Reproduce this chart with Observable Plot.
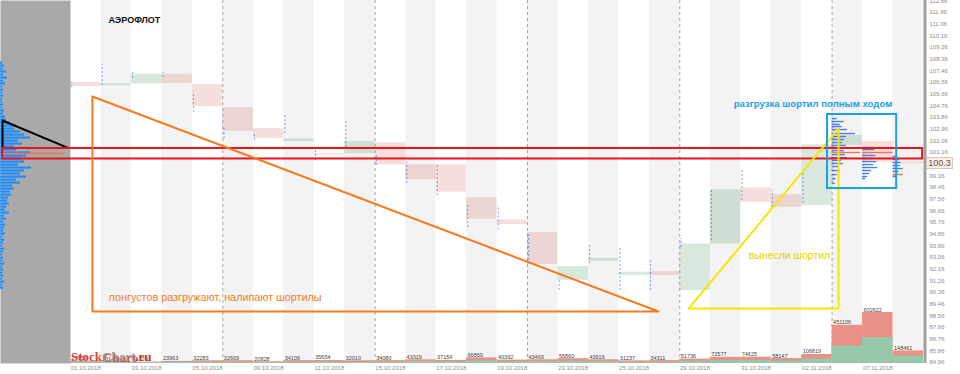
<!DOCTYPE html>
<html><head><meta charset="utf-8">
<script src="https://cdn.jsdelivr.net/npm/d3@7"></script>
<script src="https://cdn.jsdelivr.net/npm/@observablehq/plot@0.6"></script>
<style>
body{margin:0;background:#fff;}
#chart{position:relative;width:960px;height:374px;overflow:hidden;font-family:"Liberation Sans",Arial,sans-serif;}
#chart svg{position:absolute;left:0;top:0;background:none !important;overflow:visible;}
#price{position:absolute;width:25px;height:10px;line-height:10px;font-size:9px;color:#555;background:#fbeee6;border:1px solid #d6c6bc;text-align:center;}
#wm{position:absolute;left:71px;top:349px;font:bold 13px "Liberation Serif","DejaVu Serif",serif;letter-spacing:0;}
</style></head><body><div id="chart"></div>
<script>
// ---- data ----
const dates = ["01.10.2018","02.10.2018","03.10.2018","04.10.2018","05.10.2018","08.10.2018","09.10.2018","10.10.2018","11.10.2018","12.10.2018","15.10.2018","16.10.2018","17.10.2018","18.10.2018","19.10.2018","22.10.2018","23.10.2018","24.10.2018","25.10.2018","26.10.2018","29.10.2018","30.10.2018","31.10.2018","01.11.2018","02.11.2018","06.11.2018","07.11.2018","08.11.2018"];
const opens  = [106.56,106.33,106.45,107.20,106.40,104.62,103.00,102.00,101.06,101.06,101.90,100.21,100.21,97.66,95.96,95.00,91.30,92.77,91.67,91.97,90.50,94.10,98.43,97.90,97.07,101.70,102.03,100.41];
const closes = [106.25,106.45,107.20,106.50,104.70,102.80,102.24,102.20,100.95,102.00,100.21,99.05,98.10,96.04,95.60,92.52,92.36,93.00,91.92,91.67,94.10,98.28,97.32,96.94,101.75,102.47,100.41,100.30];
const lows   = [106.17,106.33,106.87,106.94,104.24,102.24,102.08,102.62,100.54,101.54,100.15,98.77,97.84,95.37,95.18,92.82,90.51,92.59,90.51,90.51,93.83,94.37,97.45,96.91,97.22,98.70,99.10,99.30];
const highs  = [106.56,107.95,107.49,107.33,105.71,103.09,102.62,104.17,101.31,103.63,101.08,100.39,100.15,97.07,97.07,94.91,91.28,94.14,93.75,92.82,94.52,98.38,99.77,98.23,99.77,103.80,101.55,100.90];
const volumes    = [27650,20143,16720,23963,32283,32669,20828,34106,35654,32010,34080,43319,37154,66869,40392,43469,56860,43916,31237,34311,51736,72577,74625,58147,106819,451106,602622,148461];
const buyVolumes = [13000,10000,8500,12000,15500,16000,10500,17000,17500,15500,16500,21000,18000,31000,19500,21000,27000,21500,15000,16500,26000,36000,37500,28000,53000,203000,306000,89000];
const yTicks = [112.86,111.96,111.06,110.16,109.26,108.36,107.46,106.56,105.66,104.76,103.86,102.96,102.06,101.16,99.36,98.46,97.56,96.66,95.76,94.86,93.96,93.06,92.16,91.26,90.36,89.46,88.56,87.66,86.76,85.86,84.96];
const weekStarts = [5,10,15,20,25];
const lastPrice = 100.3;

// overall volume profile (left panel)
const leftProfPrices = [108.10,107.87,107.64,107.41,107.17,106.94,106.71,106.48,106.25,106.02,105.79,105.55,105.32,105.09,104.86,104.63,104.40,104.17,103.93,103.70,103.47,103.24,103.01,102.78,102.54,102.31,102.08,101.85,101.62,101.39,101.16,100.92,100.69,100.46,100.23,100.00,99.77,99.54,99.30,99.07,98.84,98.61,98.38,98.15,97.91,97.68,97.45,97.22,96.99,96.76,96.53,96.29,96.06,95.83,95.60,95.37,95.14,94.91,94.67,94.44,94.21,93.98,93.75,93.52,93.29,93.05,92.82,92.59,92.36,92.13,91.90,91.67,91.43,91.20,90.97,90.74];
const leftProfVols   = [2,4,3,6,3,7,3,5,2,3,2,3,2,2,3,2,4,3,5,6,10,16,14,20,24,30,18,22,14,16,30,26,22,24,18,31,24,20,26,16,20,12,14,10,11,8,7,9,6,5,9,4,6,3,5,4,3,5,2,4,3,2,4,3,2,3,2,4,2,3,2,3,2,4,2,3];
const leftPocPrice = 101.08, leftPocVol = 60;

// session profiles of the last three days
const prof0611Prices = [103.78,103.55,103.32,103.16,102.93,102.62,102.39,102.16,101.93,101.70,101.47,101.31,101.00,100.77,100.54,100.31,100.08,99.77,99.46,99.15,98.77];
const prof0611Vols   = [5,12,8,10,15,23,14,12,10,14,9,12,13,15,9,11,7,8,5,4,3];
const prof0711Prices = [101.54,101.39,100.93,100.70,100.46,100.23,100.00,99.77,99.54,99.31,99.15];
const prof0711Vols   = [8,12,13,10,14,11,15,9,7,5,3];
const prof0811Prices = [100.85,100.62,100.39,100.16,99.92,99.69,99.31];
const prof0811Vols   = [4,6,8,7,10,6,4];
const pocCols = [25,26,27], pocPrices = [101.16,101.16,99.46], pocVols = [28,30,10];

// annotations (data coordinates: column index, price)
const title = "АЭРОФЛОТ";
const orangeTri = [[0.72,105.48],[0.72,88.89],[19.30,88.89],[0.72,105.48]];
const yellowTri = [[20.29,89.12],[25.21,103.01],[25.21,89.12],[20.29,89.12]];
const blueBox = {x1:24.85, x2:27.12, y1:98.38, y2:104.09};
const redBand = {x1:-2.23, x2:27.97, y1:100.66, y2:101.47};
const blackTri = [[2,103.63],[2,101.50],[68,101.50],[2,103.63]];
const noteOrange = {x:1.25, y:89.97, text:"лонгустов разгружают, налипают шортилы"};
const noteYellow = {x:22.26, y:93.21, text:"вынесли шортил"};
const noteBlue   = {x:21.77, y:104.94, text:"разгрузка шортил полным ходом"};

// ---- build ----
const N = dates.length;
const candles = dates.map((d,i)=>({i, d, o:opens[i], c:closes[i], lo:lows[i], hi:highs[i], v:volumes[i], b:buyVolumes[i]}));
const profRows = [];
[[25,prof0611Prices,prof0611Vols],[26,prof0711Prices,prof0711Vols],[27,prof0811Prices,prof0811Vols]].forEach(([col,ps,vs])=>ps.forEach((p,k)=>profRows.push({col,p,v:vs[k]})));
const pocRows = pocCols.map((col,k)=>({col,p:pocPrices[k],v:pocVols[k]}));
const leftRows = leftProfPrices.map((p,k)=>({p,v:leftProfVols[k]}));
const colUnit = 30; // profile volume units per column width

const X = {domain:[0,N], range:[70,923]};
const Y = {domain:[84.96,111.96], range:[362,12]};
const FONT = "Liberation Sans, Arial, sans-serif";
const common = {width:960, height:374, marginLeft:70, marginRight:37, marginTop:0, marginBottom:11, x:X, y:Y, style:{background:"none", fontFamily:FONT}};
const note = (d, fill, weight, size) => Plot.text([d], {x:"x", y:"y", text:"text", fill, fontWeight:weight, fontSize:size, textAnchor:"start", fontFamily:FONT});

// left panel
const left = Plot.plot({
  width:70, height:374, marginLeft:0, marginRight:0, marginTop:0, marginBottom:11,
  x:{domain:[0,70], range:[0,70], axis:null}, y:{...Y, axis:null}, style:{background:"none"},
  marks:[
    Plot.frame({fill:"#a9a9a9", stroke:"none"}),
    Plot.ruleY(leftRows, {y:"p", x1:0, x2:"v", stroke:"#1f8fff", strokeWidth:2.2}),
    Plot.ruleY([leftPocPrice], {x1:3, x2:leftPocVol+3, stroke:"#f07850", strokeWidth:1.5}),
    Plot.line(blackTri, {x:d=>d[0], y:d=>d[1], stroke:"#000", strokeWidth:2})
  ]
});

const main = Plot.plot({
  ...common,
  marks:[
    Plot.rect(candles.filter(d=>d.i%2===1), {x1:"i", x2:d=>d.i+1, fill:"#f3f3f3"}),
    Plot.ruleX(weekStarts, {stroke:"#a5a5a5", strokeDasharray:"3,3", strokeWidth:1}),
    Plot.rect(candles.filter(d=>d.c>=d.o), {x1:"i", x2:d=>d.i+1, y1:"o", y2:"c", fill:"#3a8c55", fillOpacity:0.2}),
    Plot.rect(candles.filter(d=>d.c<d.o), {x1:"i", x2:d=>d.i+1, y1:"o", y2:"c", fill:"#cd5a4b", fillOpacity:0.2}),
    Plot.ruleX(candles, {x:d=>d.i+0.04, y1:"lo", y2:"hi", stroke:"#3b78e0", strokeOpacity:0.65, strokeDasharray:"2,2", strokeWidth:1}),
    Plot.ruleY(profRows, {y:"p", x1:"col", x2:d=>d.col+d.v/colUnit, stroke:"#4a7fe0", strokeWidth:1.4}),
    Plot.ruleY(pocRows, {y:"p", x1:"col", x2:d=>d.col+d.v/colUnit, stroke:"#f07850", strokeWidth:1.5}),
    Plot.rect([redBand], {x1:"x1", x2:"x2", y1:"y1", y2:"y2", fill:"none", stroke:"#e8141c", strokeWidth:2}),
    Plot.line(orangeTri, {x:d=>d[0], y:d=>d[1], stroke:"#f47b20", strokeWidth:2}),
    Plot.line(yellowTri, {x:d=>d[0], y:d=>d[1], stroke:"#f7e600", strokeWidth:2}),
    Plot.rect([blueBox], {x1:"x1", x2:"x2", y1:"y1", y2:"y2", fill:"none", stroke:"#1ba0e2", strokeWidth:2}),
    Plot.text([title], {x:1.25, y:111.34, text:d=>d, textAnchor:"start", fontSize:9, fontWeight:"bold", fill:"#111", fontFamily:FONT}),
    note(noteOrange, "#f07b28", 500, 10.8),
    note(noteYellow, "#e2d300", 500, 10.5),
    note(noteBlue, "#1ba0e2", "bold", 9.6),
    Plot.ruleX([N], {stroke:"#a0a0a0", strokeWidth:3, dx:1.5}),
    Plot.axisY(yTicks, {anchor:"right", tickSize:0, tickPadding:6, fontSize:6, fill:"#8c8c8c", tickFormat:d=>d.toFixed(2)}),
    Plot.axisX(candles.filter(d=>d.i%2===0).map(d=>d.i+0.5), {anchor:"bottom", tickSize:0, tickPadding:2, fontSize:6, fill:"#8c8c8c", tickFormat:t=>dates[Math.floor(t)]})
  ]
});

const vol = Plot.plot({
  width:960, height:374, marginLeft:70, marginRight:37, marginTop:0, marginBottom:11,
  x:{...X, axis:null}, y:{domain:[0, d3.max(volumes)], range:[363,312], axis:null}, style:{background:"none", fontFamily:FONT},
  marks:[
    Plot.rect(candles, {x1:"i", x2:d=>d.i+1, y1:0, y2:"v", fill:"#e79187"}),
    Plot.rect(candles, {x1:"i", x2:d=>d.i+1, y1:0, y2:"b", fill:"#98c8aa"}),
    Plot.text(candles, {x:"i", y:"v", text:d=>String(d.v), dx:1, dy:-1, lineAnchor:"bottom", textAnchor:"start", fontSize:5.5, fill:"#444", fontFamily:FONT})
  ]
});

const root = document.getElementById("chart");
root.append(left, main, vol);

const py = main.scale("y").apply(lastPrice);
const box = document.createElement("div");
box.id = "price"; box.textContent = String(lastPrice);
box.style.left = "926px"; box.style.top = (py-6)+"px";
root.append(box);

const wm = document.createElement("div");
wm.id = "wm";
wm.innerHTML = '<span style="color:#d8463c">Stock</span><span style="color:#9a9a9a;text-shadow:1px 1px 0 #d8463c">Chart</span><span style="color:#c0392b">.ru</span>';
root.append(wm);
</script></body></html>
